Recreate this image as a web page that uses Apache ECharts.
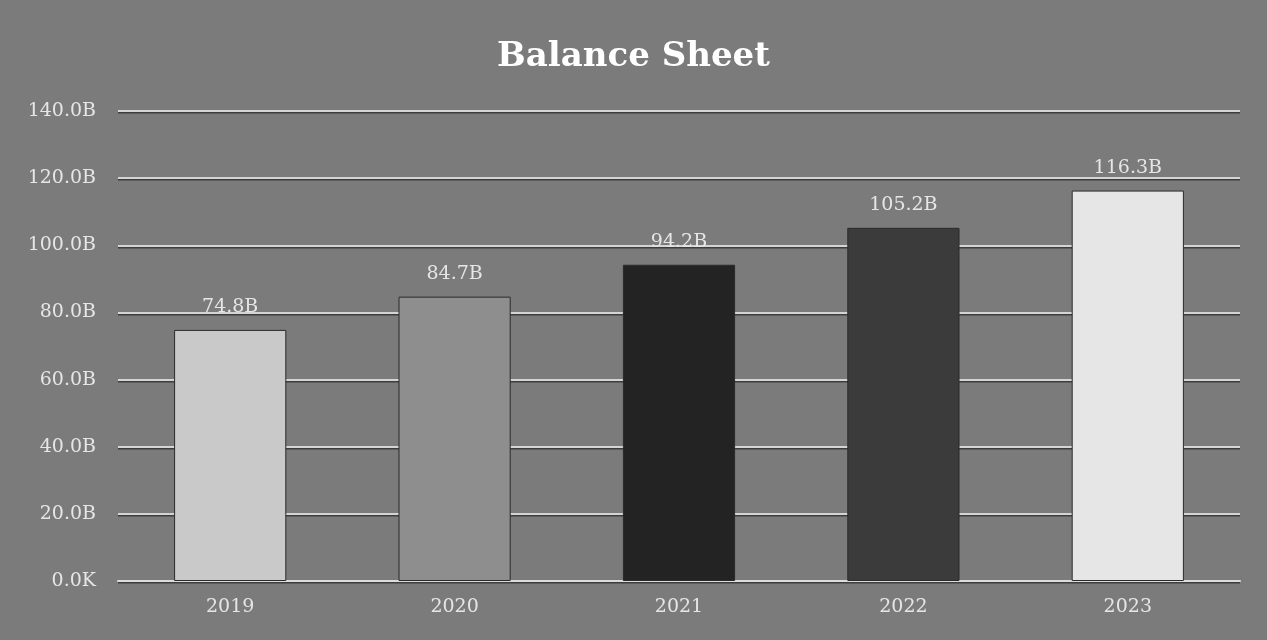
<!DOCTYPE html>
<html>
<head>
<meta charset="utf-8">
<script src="https://cdn.jsdelivr.net/npm/echarts@6/dist/echarts.min.js"></script>
<style>
html,body{margin:0;padding:0;background:#d8d8d8;}
#c{width:1267px;height:640px;}
</style>
</head>
<body>
<div id="c"></div>
<script>
const categories = ['2019', '2020', '2021', '2022', '2023'];
const values = [74.8, 84.7, 94.2, 105.2, 116.3]; // billions
const barColors = ['#c9c9c9', '#8e8e8e', '#232323', '#3b3b3b', '#e6e6e6'];
const yTicks = [0, 20, 40, 60, 80, 100, 120, 140];

const chart = echarts.init(document.getElementById('c'));
chart.setOption({
  backgroundColor: '#7b7b7b',
  title: {
    text: 'Balance Sheet',
    left: 'center',
    top: 35,
    textStyle: { color: '#ffffff', fontFamily: 'DejaVu Serif', fontWeight: 'bold', fontSize: 34 }
  },
  grid: { left: 118, right: 27, top: 111, bottom: 59 },
  xAxis: {
    type: 'category',
    data: categories,
    axisLine: { lineStyle: { color: '#dcdcdc', width: 2 } },
    axisTick: { show: false },
    axisLabel: { color: '#e6e6e6', fontFamily: 'DejaVu Serif', fontSize: 19, margin: 17 }
  },
  yAxis: {
    type: 'value',
    min: yTicks[0],
    max: yTicks[yTicks.length - 1],
    interval: 20,
    axisLine: { show: false },
    axisTick: { show: false },
    splitLine: { lineStyle: { color: '#d4d4d4', width: 2, shadowColor: 'rgba(0,0,0,0.5)', shadowOffsetY: 1.5, shadowBlur: 0 } },
    axisLabel: {
      color: '#e6e6e6', fontFamily: 'DejaVu Serif', fontSize: 19, margin: 22,
      formatter: v => v === 0 ? '0.0K' : v.toFixed(1) + 'B'
    }
  },
  series: [{
    type: 'bar',
    barWidth: '50%',
    data: values.map((v, i) => ({
      value: v,
      itemStyle: { color: barColors[i], borderColor: '#2a2a2a', borderWidth: 1 }
    })),
    label: {
      show: true,
      position: 'top',
      distance: 13,
      color: '#e6e6e6',
      fontFamily: 'DejaVu Serif',
      fontSize: 19,
      formatter: p => p.value.toFixed(1) + 'B'
    }
  }]
});
</script>
</body>
</html>
